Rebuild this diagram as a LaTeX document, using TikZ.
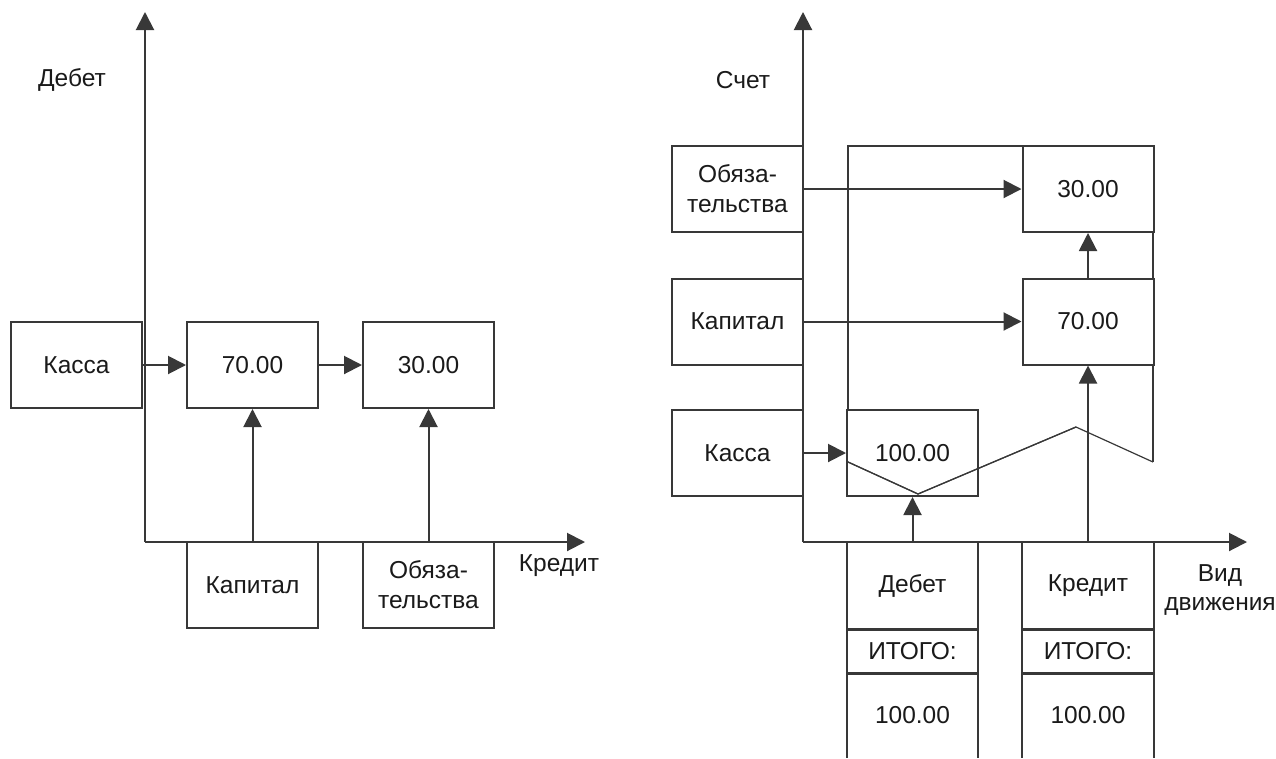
\documentclass[tikz,border=0pt]{standalone}
\usepackage{fontspec}
\setmainfont{Liberation Sans}
\usetikzlibrary{arrows.meta}
\definecolor{ln}{HTML}{383838}
\definecolor{tx}{HTML}{1A1A1A}
\tikzset{
  box/.style={draw=ln, line width=2pt, minimum width=131pt, minimum height=86pt, inner sep=0pt, text=tx, align=center, font=\fontsize{24.5}{30}\selectfont},
  cell/.style={inner sep=0pt, minimum width=131pt, text=tx, align=center, font=\fontsize{24.5}{30}\selectfont},
  lbl/.style={inner sep=0pt, text=tx, align=center, font=\fontsize{24.5}{29}\selectfont},
  arr/.style={draw=ln, line width=2pt, -{Triangle[length=18pt,width=18pt]}},
  axis/.style={draw=ln, line width=2pt},
  thinl/.style={draw=ln, line width=1.2pt},
  sep/.style={draw=ln, line width=3.2pt}
}
\begin{document}
\begin{tikzpicture}[x=1pt,y=-1pt]
\useasboundingbox[fill=white] (0,0) rectangle (1276,758);
% ---------- left diagram ----------
\coordinate (oL) at (145,542);
\coordinate (topL) at (145,12);
\coordinate (rightL) at (585,542);
\draw[arr] (oL) -- (topL);
\draw[arr] (oL) -- (rightL);
\node[box] (kassaL) at (76.5,365) {Касса};
\node[box] (v70L) at (252.5,365) {70.00};
\node[box] (v30L) at (428.5,365) {30.00};
\node[box] (kapL) at (252.5,585) {Капитал};
\node[box] (obL) at (428.5,585) {Обяза-\\тельства};
\draw[arr] (kassaL.east) -- (v70L.west);
\draw[arr] (v70L.east) -- (v30L.west);
\draw[arr] (kapL.north) -- (v70L.south);
\draw[arr] (obL.north) -- (v30L.south);
\node[lbl] (debLbl) at (72,80) {Дебет};
\node[lbl] (krLbl) at (559,566) {Кредит};
% ---------- right diagram ----------
\coordinate (oR) at (803,542);
\coordinate (topR) at (803,12);
\coordinate (rightR) at (1247,542);
% big open frame
\coordinate (f1) at (848,410);
\coordinate (f2) at (848,146);
\coordinate (f3) at (1153,146);
\coordinate (f4) at (1153,462);
\draw[axis] (f1) -- (f2) -- (f3) -- (f4);
% zigzag
\coordinate (z1) at (848,462);
\coordinate (z2) at (918,494);
\coordinate (z3) at (1076,427);
\draw[thinl] (z1) -- (z2) -- (z3) -- (f4);
\draw[arr] (oR) -- (topR);
\draw[arr] (oR) -- (rightR);
\node[box] (obR) at (737.5,189) {Обяза-\\тельства};
\node[box] (kapR) at (737.5,321.5) {Капитал};
\node[box] (kassaR) at (737.5,453) {Касса};
\node[box,fill=white] (v30R) at (1088,189) {30.00};
\node[box,fill=white] (v70R) at (1088,321.5) {70.00};
\node[box] (v100R) at (912.5,453) {100.00};
\draw[thinl] (z1) -- (z2) -- (z3);
\draw[arr] (obR.east) -- (v30R.west);
\draw[arr] (kapR.east) -- (v70R.west);
\draw[arr] (kassaR.east) -- (v100R.west);
\draw[arr] (v70R.north) -- (v30R.south);
% bottom columns
\node[cell,minimum height=87pt] (debR) at (912.5,585.5) {Дебет};
\node[cell,minimum height=44pt] (itD) at (912.5,651) {ИТОГО:};
\node[cell,minimum height=85pt] (sumD) at (912.5,715.5) {100.00};
\node[cell,minimum height=87pt] (krR) at (1088,585.5) {Кредит};
\node[cell,minimum height=44pt] (itK) at (1088,651) {ИТОГО:};
\node[cell,minimum height=85pt] (sumK) at (1088,715.5) {100.00};
\draw[axis] (debR.north west) -- (sumD.south west);
\draw[axis] (debR.north east) -- (sumD.south east);
\draw[axis] (krR.north west) -- (sumK.south west);
\draw[axis] (krR.north east) -- (sumK.south east);
\draw[sep] (debR.south west) -- (debR.south east);
\draw[sep] (itD.south west) -- (itD.south east);
\draw[sep] (krR.south west) -- (krR.south east);
\draw[sep] (itK.south west) -- (itK.south east);
\draw[arr] (debR.north) -- (v100R.south);
\draw[arr] (krR.north) -- (v70R.south);
\node[lbl] (schet) at (743,80) {Счет};
\node[lbl] (vid) at (1220,590) {Вид\\движения};
\end{tikzpicture}
\end{document}
